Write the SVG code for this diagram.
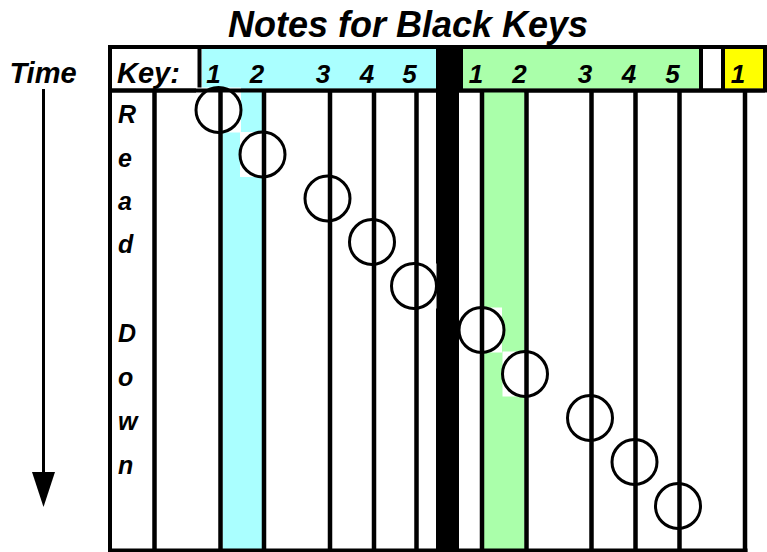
<svg xmlns="http://www.w3.org/2000/svg" width="767" height="552" viewBox="0 0 767 552">
<style>
text{font-family:"Liberation Sans",Arial,sans-serif;font-weight:bold;font-style:italic;fill:#000}
.title{font-size:36px;text-anchor:middle}
.lbl{font-size:29px}
.num{font-size:26px;text-anchor:middle}
.rd{font-size:25px}
.v{stroke:#000;stroke-width:4.5;fill:none}
.b{stroke:#000;stroke-width:4;fill:none}
.note{fill:#fff;stroke:#000;stroke-width:3}
.sq{fill:#fff}
</style>
<rect width="767" height="552" fill="#fff"/>
<text class="title" x="408" y="37">Notes for Black Keys</text>
<text class="lbl" x="43" y="83" text-anchor="middle" font-size="30">Time</text>
<g id="connectors">
<line x1="43.5" y1="89" x2="43.5" y2="472" stroke="#000" stroke-width="3"/>
<path d="M32,472 L55,472 L43.5,507 Z" fill="#000"/>
</g>
<g id="header">
<rect x="110" y="47" width="655" height="43.5" fill="#fff" stroke="#000" stroke-width="4"/>
<rect x="202" y="49" width="234" height="39.5" fill="#aaffff"/>
<rect x="436" y="47" width="27" height="43.5" fill="#000"/>
<rect x="463" y="49" width="236" height="39.5" fill="#aaffaa"/>
<rect x="725" y="49" width="38" height="39.5" fill="#ffff00"/>
<line class="b" x1="199.5" y1="47" x2="199.5" y2="90.5"/>
<line class="b" x1="701" y1="47" x2="701" y2="90.5"/>
<line class="b" x1="723" y1="47" x2="723" y2="90.5"/>
<text class="lbl" x="117" y="83">Key:</text>
<text class="num" x="213.5" y="83">1</text>
<text class="num" x="257" y="83">2</text>
<text class="num" x="323" y="83">3</text>
<text class="num" x="367" y="83">4</text>
<text class="num" x="409.5" y="83">5</text>
<text class="num" x="476" y="83">1</text>
<text class="num" x="519.5" y="83">2</text>
<text class="num" x="585" y="83">3</text>
<text class="num" x="629" y="83">4</text>
<text class="num" x="672.5" y="83">5</text>
<text class="num" x="738" y="83">1</text>
</g>
<g id="body">
<rect x="222.5" y="90" width="39.5" height="459" fill="#aaffff"/>
<rect x="484" y="90" width="40.5" height="459" fill="#aaffaa"/>
<rect x="436" y="90" width="23" height="460" fill="#000"/>
<text class="rd" x="118" y="123">R</text>
<text class="rd" x="118" y="167">e</text>
<text class="rd" x="118" y="210">a</text>
<text class="rd" x="118" y="253">d</text>
<text class="rd" x="118" y="342">D</text>
<text class="rd" x="118" y="386">o</text>
<text class="rd" x="118" y="430">w</text>
<text class="rd" x="118" y="474">n</text>
</g>
<g id="notes-bg">
<rect class="sq" x="196" y="87.5" width="45" height="45"/>
<rect class="sq" x="240" y="132" width="45" height="45"/>
<rect class="sq" x="305" y="176" width="45" height="45"/>
<rect class="sq" x="349.5" y="219.5" width="45" height="45"/>
<rect class="sq" x="391.5" y="263.5" width="45" height="45"/>
<rect class="sq" x="459" y="307.5" width="43" height="45"/>
<rect class="sq" x="502.5" y="351.5" width="45" height="45"/>
<rect class="sq" x="567.5" y="395.5" width="45" height="45"/>
<rect class="sq" x="612" y="439.5" width="45" height="45"/>
<rect class="sq" x="655.5" y="483.5" width="45" height="45"/>
</g>
<g id="notes">
<circle id="n1" class="note" cx="218.5" cy="110" r="22.5"/>
<circle id="n2" class="note" cx="262.5" cy="154.5" r="22.5"/>
<circle id="n3" class="note" cx="327.5" cy="198.5" r="22.5"/>
<circle id="n4" class="note" cx="372" cy="242" r="22.5"/>
<circle id="n5" class="note" cx="414" cy="286" r="22.5"/>
<circle id="n6" class="note" cx="481.5" cy="330" r="22.5"/>
<circle id="n7" class="note" cx="525" cy="374" r="22.5"/>
<circle id="n8" class="note" cx="590" cy="418" r="22.5"/>
<circle id="n9" class="note" cx="634.5" cy="462" r="22.5"/>
<circle id="n10" class="note" cx="678" cy="506" r="22.5"/>
</g>
<g id="grid">
<line class="b" x1="110" y1="47" x2="110" y2="552"/>
<line class="b" x1="108" y1="550.5" x2="747.5" y2="550.5"/>
<line class="v" x1="154.5" y1="90" x2="154.5" y2="552"/>
<line class="v" x1="220.5" y1="90" x2="220.5" y2="552"/>
<line class="v" x1="264" y1="90" x2="264" y2="552"/>
<line class="v" x1="330" y1="90" x2="330" y2="552"/>
<line class="v" x1="374" y1="90" x2="374" y2="552"/>
<line class="v" x1="416.5" y1="90" x2="416.5" y2="552"/>
<line class="v" x1="482" y1="90" x2="482" y2="552"/>
<line class="v" x1="526.5" y1="90" x2="526.5" y2="552"/>
<line class="v" x1="591.5" y1="90" x2="591.5" y2="552"/>
<line class="v" x1="635.5" y1="90" x2="635.5" y2="552"/>
<line class="v" x1="679.5" y1="90" x2="679.5" y2="552"/>
<line class="v" x1="745" y1="90" x2="745" y2="552"/>
<line class="b" x1="110" y1="90.5" x2="765" y2="90.5"/>
</g>
</svg>
